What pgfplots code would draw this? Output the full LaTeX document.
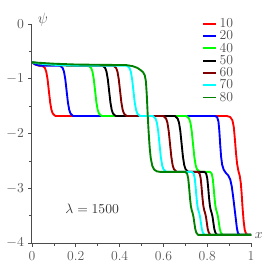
\documentclass[border=0pt]{standalone}
\usepackage{pgfplots}
\pgfplotsset{compat=1.18}
\definecolor{dkred}{RGB}{128,0,0}
\definecolor{dkgreen}{RGB}{0,128,0}
\definecolor{cyn}{RGB}{0,255,255}
\definecolor{grn}{RGB}{0,255,0}
\definecolor{rd}{RGB}{255,0,0}
\definecolor{bl}{RGB}{0,0,255}
\begin{document}
\begin{tikzpicture}
\begin{axis}[
  scale only axis, width=175bp, height=175bp,
  xmin=0, xmax=1, ymin=-4, ymax=0,
  axis lines=left, axis line style={-, black!70, line width=0.8pt},
  xtick={0,0.2,0.4,0.6,0.8,1}, xticklabels={0,0.2,0.4,0.6,0.8,1},
  minor xtick={0.1,0.3,0.5,0.7,0.9},
  ytick={0,-1,-2,-3,-4}, minor ytick={-0.5,-1.5,-2.5,-3.5},
  tick style={black!70, line width=0.6pt}, tick align=outside,
  major tick length=3pt, minor tick length=2pt,
  tick label style={font=\fontsize{11}{13}\selectfont, text=black!65},
  clip=false,
  every axis plot/.append style={line width=1.5pt, line join=round},
  legend style={draw=none, fill=none, at={(0.76,1.05)}, anchor=north west, row sep=-3pt, text=black!70, font=\fontsize{11}{13}\selectfont},
  legend cell align=left,
  legend image code/.code={\draw[#1] (0cm,0cm) -- (0.36cm,0cm);},
]
\addplot[rd] coordinates {(0,-0.70) (0.015,-0.74) (0.03,-0.76) (0.047,-0.76) (0.059,-0.803) (0.065,-0.869) (0.071,-1.007) (0.077,-1.22) (0.083,-1.433) (0.089,-1.570) (0.095,-1.637) (0.107,-1.68) (0.89,-1.68) (0.905,-1.70) (0.915,-1.76) (0.921,-1.88) (0.926,-2.1) (0.931,-2.35) (0.936,-2.55) (0.942,-2.68) (0.948,-2.77) (0.953,-2.9) (0.957,-3.1) (0.961,-3.35) (0.966,-3.6) (0.971,-3.76) (0.977,-3.83) (0.985,-3.85) (1,-3.85)};
\addlegendentry{10}
\addplot[bl] coordinates {(0,-0.70) (0.015,-0.74) (0.035,-0.76) (0.128,-0.76) (0.140,-0.803) (0.146,-0.869) (0.152,-1.007) (0.158,-1.22) (0.164,-1.433) (0.170,-1.570) (0.176,-1.637) (0.188,-1.68) (0.835,-1.68) (0.845,-1.70) (0.851,-1.78) (0.855,-1.95) (0.859,-2.2) (0.863,-2.42) (0.868,-2.57) (0.875,-2.66) (0.885,-2.72) (0.895,-2.76) (0.905,-2.84) (0.912,-2.97) (0.918,-3.15) (0.924,-3.35) (0.930,-3.55) (0.935,-3.72) (0.940,-3.82) (0.948,-3.85) (1,-3.85)};
\addlegendentry{20}
\addplot[grn] coordinates {(0,-0.70) (0.05,-0.73) (0.12,-0.75) (0.2,-0.76) (0.258,-0.76) (0.270,-0.803) (0.276,-0.869) (0.282,-1.007) (0.288,-1.22) (0.294,-1.433) (0.300,-1.570) (0.306,-1.637) (0.318,-1.68) (0.705,-1.68) (0.717,-1.728) (0.723,-1.801) (0.729,-1.954) (0.735,-2.19) (0.741,-2.426) (0.747,-2.579) (0.753,-2.652) (0.765,-2.70) (0.812,-2.70) (0.820,-2.73) (0.825,-2.82) (0.829,-2.98) (0.833,-3.17) (0.837,-3.32) (0.841,-3.40) (0.845,-3.45) (0.849,-3.52) (0.853,-3.63) (0.857,-3.74) (0.862,-3.81) (0.870,-3.85) (1,-3.85)};
\addlegendentry{40}
\addplot[black] coordinates {(0,-0.70) (0.05,-0.73) (0.12,-0.75) (0.2,-0.76) (0.322,-0.76) (0.334,-0.803) (0.340,-0.869) (0.346,-1.007) (0.352,-1.22) (0.358,-1.433) (0.364,-1.570) (0.370,-1.637) (0.382,-1.68) (0.653,-1.68) (0.665,-1.728) (0.671,-1.801) (0.677,-1.954) (0.683,-2.19) (0.689,-2.426) (0.695,-2.579) (0.701,-2.652) (0.713,-2.70) (0.787,-2.70) (0.795,-2.73) (0.800,-2.82) (0.804,-2.98) (0.808,-3.17) (0.812,-3.32) (0.816,-3.40) (0.820,-3.45) (0.824,-3.52) (0.828,-3.63) (0.832,-3.74) (0.837,-3.81) (0.845,-3.85) (1,-3.85)};
\addlegendentry{50}
\addplot[dkred] coordinates {(0,-0.70) (0.05,-0.73) (0.12,-0.75) (0.2,-0.76) (0.372,-0.76) (0.384,-0.803) (0.390,-0.869) (0.396,-1.007) (0.402,-1.22) (0.408,-1.433) (0.414,-1.570) (0.420,-1.637) (0.432,-1.68) (0.600,-1.68) (0.612,-1.728) (0.618,-1.801) (0.624,-1.954) (0.630,-2.19) (0.636,-2.426) (0.642,-2.579) (0.648,-2.652) (0.660,-2.70) (0.757,-2.70) (0.765,-2.73) (0.770,-2.82) (0.774,-2.98) (0.778,-3.17) (0.782,-3.32) (0.786,-3.40) (0.790,-3.45) (0.794,-3.52) (0.798,-3.63) (0.802,-3.74) (0.807,-3.81) (0.815,-3.85) (1,-3.85)};
\addlegendentry{60}
\addplot[cyn] coordinates {(0,-0.70) (0.05,-0.73) (0.12,-0.75) (0.2,-0.76) (0.433,-0.76) (0.445,-0.803) (0.451,-0.869) (0.457,-1.007) (0.463,-1.22) (0.469,-1.433) (0.475,-1.570) (0.481,-1.637) (0.493,-1.68) (0.552,-1.68) (0.564,-1.728) (0.570,-1.801) (0.576,-1.954) (0.582,-2.19) (0.588,-2.426) (0.594,-2.579) (0.600,-2.652) (0.612,-2.70) (0.730,-2.70) (0.738,-2.73) (0.743,-2.82) (0.747,-2.98) (0.751,-3.17) (0.755,-3.32) (0.759,-3.40) (0.763,-3.45) (0.767,-3.52) (0.771,-3.63) (0.775,-3.74) (0.780,-3.81) (0.788,-3.85) (1,-3.85)};
\addlegendentry{70}
\addplot[dkgreen] coordinates {(0,-0.70) (0.1,-0.725) (0.2,-0.74) (0.3,-0.745) (0.43,-0.75) (0.46,-0.77) (0.48,-0.80) (0.495,-0.84) (0.507,-0.88) (0.515,-0.94) (0.520,-1.05) (0.524,-1.3) (0.528,-1.65) (0.532,-1.95) (0.537,-2.25) (0.542,-2.45) (0.549,-2.59) (0.558,-2.66) (0.570,-2.69) (0.585,-2.70) (0.700,-2.70) (0.708,-2.73) (0.713,-2.82) (0.717,-2.98) (0.721,-3.17) (0.725,-3.32) (0.729,-3.40) (0.733,-3.45) (0.737,-3.52) (0.741,-3.63) (0.745,-3.74) (0.750,-3.81) (0.758,-3.85) (1,-3.85)};
\addlegendentry{80}
\node[text=black!70, font=\large] at (axis cs:0.05,0.07) {$\psi$};
\node[text=black!70, font=\fontsize{11}{13}\selectfont] at (axis cs:1.035,-3.87) {$x$};
\node[text=black!80, font=\fontsize{11}{13}\selectfont] at (axis cs:0.275,-3.38) {$\lambda=1500$};
\coordinate (bbBL) at (axis cs:-0.146,-4.51);
\coordinate (bbTR) at (axis cs:1.10,0.438);
\end{axis}
\path (bbBL) rectangle (bbTR);
\end{tikzpicture}
\end{document}
